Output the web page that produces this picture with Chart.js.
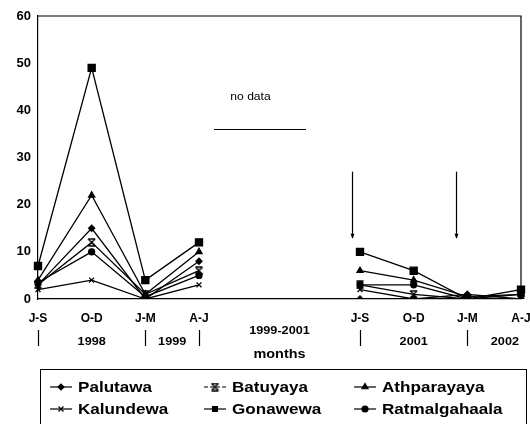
<!DOCTYPE html>
<html>
<head>
<meta charset="utf-8">
<script src="https://cdn.jsdelivr.net/npm/chart.js@4"></script>
<style>
  html, body { margin: 0; padding: 0; background: #fff; }
  #wrap { width: 530px; height: 424px; position: relative; }
</style>
</head>
<body>
<div id="wrap"><canvas id="rangeChart" width="530" height="424"></canvas></div>
<script>
// quarters, with two empty slots for the 1999-2001 gap
const labels = ['J-S', 'O-D', 'J-M', 'A-J', '', '', 'J-S', 'O-D', 'J-M', 'A-J'];
const yTicks = [0, 10, 20, 30, 40, 50, 60];

const palutawa      = [3,   15, 0,   8,  null, null, 0,  0, 1,   0];
const batuyaya      = [3,   12, 1,   6,  null, null, 3,  1, 0,   0];
const athparayaya   = [4,   22, 1,   10, null, null, 6,  4, 0.5, 1];
const kalundewa     = [2,   4,  0,   3,  null, null, 2,  0, 0,   0];
const gonawewa      = [7,   49, 4,   12, null, null, 10, 6, 0,   2];
const ratmalgahaala = [3.5, 10, 0.5, 5,  null, null, 3,  3, 0,   1];

const yearGroups = [
    { text: '1998', from: 0, to: 2 },
    { text: '1999', from: 2, to: 3 },
    { text: '2001', from: 6, to: 8 },
    { text: '2002', from: 8, to: 9.4 }
];

// hourglass shaped cross for Batuyaya
function hourglass() {
    const c = document.createElement('canvas');
    c.width = 9; c.height = 9;
    const g = c.getContext('2d');
    g.strokeStyle = '#000';
    g.lineWidth = 1.4;
    g.beginPath();
    g.moveTo(1, 1); g.lineTo(8, 8);
    g.moveTo(8, 1); g.lineTo(1, 8);
    g.moveTo(1, 1); g.lineTo(8, 1);
    g.moveTo(1, 8); g.lineTo(8, 8);
    g.stroke();
    return c;
}

function series(label, data, style, radius) {
    return {
        label: label,
        data: data,
        borderColor: '#000',
        backgroundColor: '#000',
        borderWidth: 1.3,
        pointStyle: style,
        pointRadius: radius,
        pointBorderWidth: 1.3,
        tension: 0,
        spanGaps: false
    };
}

const FONT = 'Liberation Sans, Arial, sans-serif';

// text drawn a bit wider, like the scanned original
function wideText(ctx, text, x, y, sx) {
    ctx.save();
    ctx.translate(x, y);
    ctx.scale(sx, 1);
    ctx.fillText(text, 0, 0);
    ctx.restore();
}

const extras = {
    id: 'extras',
    afterDraw(chart) {
        const ctx = chart.ctx;
        const a = chart.chartArea;
        const x = chart.scales.x;
        const y = chart.scales.y;
        ctx.save();
        ctx.strokeStyle = '#000';
        ctx.fillStyle = '#000';

        // frame top + right
        ctx.lineWidth = 1.2;
        ctx.beginPath();
        ctx.moveTo(a.left, a.top);
        ctx.lineTo(a.right, a.top);
        ctx.lineTo(a.right, a.bottom);
        ctx.stroke();

        // separators under the axis
        [0, 2, 3, 6, 8].forEach(i => {
            const px = Math.round(x.getPixelForValue(i)) + 0.5;
            ctx.beginPath();
            ctx.moveTo(px, 330);
            ctx.lineTo(px, 346);
            ctx.stroke();
        });

        ctx.font = 'bold 11px ' + FONT;
        ctx.textAlign = 'center';
        ctx.textBaseline = 'middle';
        yearGroups.forEach(g => {
            const cx = (x.getPixelForValue(g.from) + x.getPixelForValue(g.to)) / 2;
            wideText(ctx, g.text, cx, 342, 1.15);
        });
        const mid = (x.getPixelForValue(3) + x.getPixelForValue(6)) / 2;
        wideText(ctx, '1999-2001', mid, 331, 1.15);
        ctx.font = 'bold 12px ' + FONT;
        wideText(ctx, 'months', mid, 355, 1.2);

        // no data note
        ctx.font = '11px ' + FONT;
        wideText(ctx, 'no data', mid - 29, 97, 1.1);
        ctx.lineWidth = 1;
        ctx.beginPath();
        ctx.moveTo(214, 129.5);
        ctx.lineTo(306, 129.5);
        ctx.stroke();

        // arrows
        [5.86, 7.78].forEach(v => {
            const px = Math.round(x.getPixelForValue(v)) + 0.5;
            const y0 = y.getPixelForValue(27), y1 = y.getPixelForValue(13);
            ctx.lineWidth = 1.2;
            ctx.beginPath();
            ctx.moveTo(px, y0);
            ctx.lineTo(px, y1);
            ctx.stroke();
            ctx.beginPath();
            ctx.moveTo(px - 2, y1 - 4);
            ctx.lineTo(px + 2, y1 - 4);
            ctx.lineTo(px, y1 + 1);
            ctx.closePath();
            ctx.fill();
        });

        // legend
        const box = { l: 40.5, t: 369.5, r: 526.5, b: 430 };
        ctx.lineWidth = 1;
        ctx.strokeRect(box.l, box.t, box.r - box.l, box.b - box.t);
        const cols = [50, 204, 354];
        const rows = [387, 409];
        ctx.font = 'bold 14px ' + FONT;
        ctx.textAlign = 'left';
        chart.data.datasets.forEach((ds, i) => {
            const cx = cols[i % 3], cy = rows[Math.floor(i / 3)];
            ctx.lineWidth = 1.2;
            if (i === 1) ctx.setLineDash([4, 2]);
            ctx.beginPath();
            ctx.moveTo(cx, cy);
            ctx.lineTo(cx + 22, cy);
            ctx.stroke();
            ctx.setLineDash([]);
            if (Chart.helpers && Chart.helpers.drawPoint) {
                Chart.helpers.drawPoint(ctx, {
                    pointStyle: ds.pointStyle,
                    radius: Math.min(ds.pointRadius, 3.5),
                    rotation: 0,
                    borderWidth: 1.2
                }, cx + 11, cy);
            }
            wideText(ctx, ds.label, cx + 28, cy + 1, 1.22);
        });
        ctx.restore();
    }
};

new Chart(document.getElementById('rangeChart'), {
    type: 'line',
    data: {
        labels: labels,
        datasets: [
            series('Palutawa', palutawa, 'rectRot', 3),
            series('Batuyaya', batuyaya, hourglass(), 4),
            series('Athparayaya', athparayaya, 'triangle', 3.5),
            series('Kalundewa', kalundewa, 'crossRot', 3.5),
            series('Gonawewa', gonawewa, 'rect', 5),
            series('Ratmalgahaala', ratmalgahaala, 'circle', 3)
        ]
    },
    plugins: [extras],
    options: {
        responsive: false,
        animation: false,
        layout: { padding: { left: 0, top: 16, right: 9, bottom: 0 } },
        plugins: {
            legend: { display: false },
            tooltip: { enabled: false }
        },
        scales: {
            x: {
                offset: false,
                grid: { drawOnChartArea: false, drawTicks: false },
                border: { color: '#000', width: 1.2 },
                ticks: {
                    color: '#000',
                    padding: 12,
                    maxRotation: 0,
                    autoSkip: false,
                    font: { family: FONT, size: 12, weight: 'bold' }
                },
                afterFit(s) {
                    s.height = 125;
                    s.paddingLeft = 0;
                    s.paddingRight = 0;
                }
            },
            y: {
                min: 0,
                max: 60,
                afterBuildTicks(s) { s.ticks = yTicks.map(v => ({ value: v })); },
                grid: { drawOnChartArea: false, tickLength: 0 },
                border: { color: '#000', width: 1.2 },
                ticks: {
                    color: '#000',
                    padding: 7,
                    font: { family: FONT, size: 13, weight: 'bold' }
                },
                afterFit(s) {
                    s.width = 38;
                    s.paddingTop = 0;
                    s.paddingBottom = 0;
                }
            }
        }
    }
});
</script>
</body>
</html>
